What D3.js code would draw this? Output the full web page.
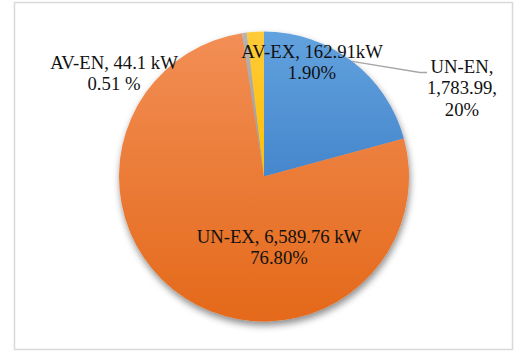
<!DOCTYPE html>
<html>
<head>
<meta charset="utf-8">
<script src="https://cdn.jsdelivr.net/npm/d3@7/dist/d3.min.js"></script>
<style>
  html, body { margin: 0; padding: 0; background: #fff; }
  svg { display: block; }
  text { font-family: "Liberation Serif", "Times New Roman", serif; fill: #111; }
</style>
</head>
<body>
<script>
// Power breakdown per category (kW)
const categories = ["UN-EN", "UN-EX", "AV-EN", "AV-EX"];
const values = [1783.99, 6589.76, 44.1, 162.91];
const labelLines = [
  ["UN-EN,", "1,783.99,", "20%"],
  ["UN-EX, 6,589.76 kW", "76.80%"],
  ["AV-EN, 44.1 kW", "0.51 %"],
  ["AV-EX, 162.91kW", "1.90%"]
];
const colorTop = ["#62a2de", "#f28e55", "#b4b4b4", "#ffca3a"];
const colorBottom = ["#4686cc", "#e4691a", "#9a9a9a", "#ffbf00"];

const W = 516, H = 352;
const cx = 264, cy = 176.5, R = 145;

const svg = d3.select("body").append("svg")
  .attr("width", W).attr("height", H);

const defs = svg.append("defs");
const shadow = defs.append("filter").attr("id", "pieShadow")
  .attr("x", "-20%").attr("y", "-20%").attr("width", "140%").attr("height", "140%");
shadow.append("feDropShadow")
  .attr("dx", 1).attr("dy", 4).attr("stdDeviation", 3.5)
  .attr("flood-color", "#000").attr("flood-opacity", 0.45);

categories.forEach((c, i) => {
  const g = defs.append("linearGradient").attr("id", "grad" + i)
    .attr("x1", 0).attr("y1", 0).attr("x2", 0).attr("y2", 1);
  g.append("stop").attr("offset", "0%").attr("stop-color", colorTop[i]);
  g.append("stop").attr("offset", "100%").attr("stop-color", colorBottom[i]);
});

// chart frame
svg.append("rect")
  .attr("x", 14.5).attr("y", 2.5).attr("width", 498).attr("height", 347)
  .attr("fill", "#fff").attr("stroke", "#d9d9d9").attr("stroke-width", 1.5);

const pie = d3.pie().sort(null).value(d => d);
const arcs = pie(values);
const arc = d3.arc().innerRadius(0).outerRadius(R);

const g = svg.append("g").attr("transform", `translate(${cx},${cy})`);

g.append("g").attr("filter", "url(#pieShadow)")
  .selectAll("path").data(arcs).join("path")
  .attr("d", arc)
  .attr("fill", (d, i) => `url(#grad${i})`);

// leader line for the UN-EN slice, from the middle of its outer edge
const edge = d3.arc().innerRadius(R).outerRadius(R);
const [lx, ly] = edge.centroid(arcs[0]);
g.append("polyline")
  .attr("points", [[lx, ly], [420 - cx, 72.5 - cy], [427 - cx, 72.5 - cy]].map(p => p.join(",")).join(" "))
  .attr("fill", "none").attr("stroke", "#a6a6a6").attr("stroke-width", 1.3);

// label anchors (centre x, first baseline y)
const labelPos = [[462, 73], [279, 243], [114, 69], [312, 58]];
const lineH = 21.3;

labelLines.forEach((lines, i) => {
  const t = svg.append("text")
    .attr("text-anchor", "middle")
    .attr("font-size", 18.7);
  lines.forEach((s, j) => {
    t.append("tspan")
      .attr("x", labelPos[i][0])
      .attr("y", labelPos[i][1] + j * lineH)
      .text(s);
  });
});
</script>
</body>
</html>
